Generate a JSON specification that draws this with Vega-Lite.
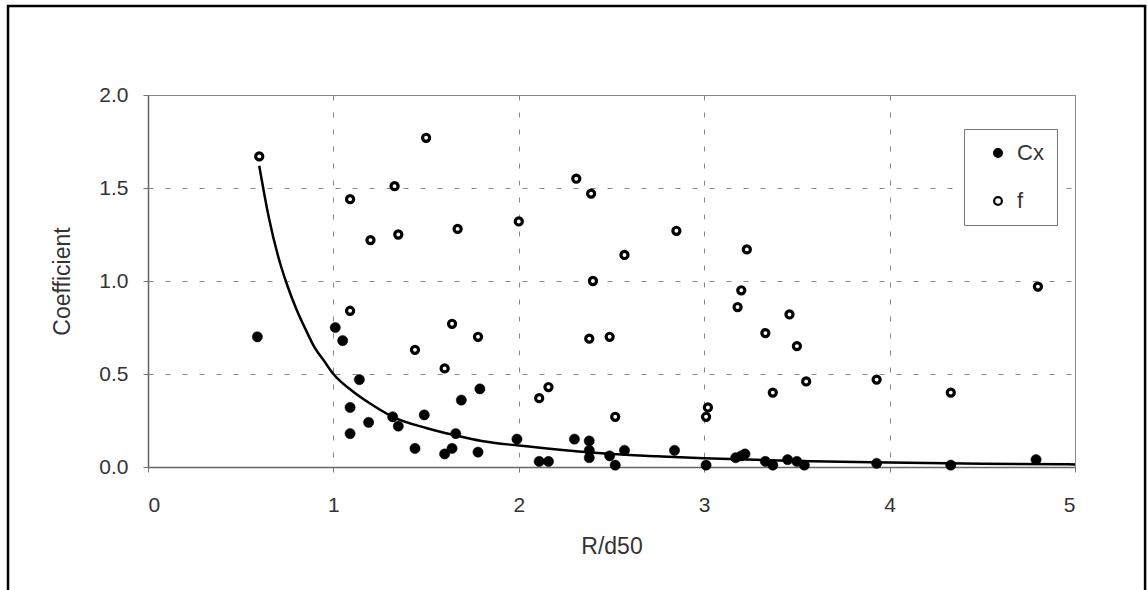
{
  "$schema": "https://vega.github.io/schema/vega-lite/v6.json",
  "width": 927,
  "height": 372,
  "autosize": {"type": "none"},
  "padding": {"left": 148, "top": 95, "right": 73, "bottom": 123},
  "background": "white",
  "config": {
    "font": "Liberation Sans",
    "view": {"stroke": "#888", "strokeWidth": 1},
    "axis": {
      "grid": true,
      "labelFont": "Liberation Sans",
      "titleFont": "Liberation Sans",
      "labelColor": "#333",
      "titleColor": "#333",
      "labelFontSize": 21,
      "titleFontSize": 23,
      "titleFontWeight": "normal",
      "domainColor": "#666",
      "domainWidth": 1.5,
      "tickColor": "#777",
      "tickSize": 5,
      "gridColor": "#888",
      "gridDash": [5, 12],
      "gridWidth": 1
    }
  },
  "datasets": {
    "pts": [
      {"series": "Cx", "x": 0.59, "y": 0.70},
      {"series": "Cx", "x": 1.01, "y": 0.75},
      {"series": "Cx", "x": 1.05, "y": 0.68},
      {"series": "Cx", "x": 1.14, "y": 0.47},
      {"series": "Cx", "x": 1.09, "y": 0.32},
      {"series": "Cx", "x": 1.19, "y": 0.24},
      {"series": "Cx", "x": 1.32, "y": 0.27},
      {"series": "Cx", "x": 1.35, "y": 0.22},
      {"series": "Cx", "x": 1.49, "y": 0.28},
      {"series": "Cx", "x": 1.09, "y": 0.18},
      {"series": "Cx", "x": 1.44, "y": 0.10},
      {"series": "Cx", "x": 1.66, "y": 0.18},
      {"series": "Cx", "x": 1.64, "y": 0.10},
      {"series": "Cx", "x": 1.60, "y": 0.07},
      {"series": "Cx", "x": 1.78, "y": 0.08},
      {"series": "Cx", "x": 1.79, "y": 0.42},
      {"series": "Cx", "x": 1.69, "y": 0.36},
      {"series": "Cx", "x": 1.99, "y": 0.15},
      {"series": "Cx", "x": 2.11, "y": 0.03},
      {"series": "Cx", "x": 2.16, "y": 0.03},
      {"series": "Cx", "x": 2.30, "y": 0.15},
      {"series": "Cx", "x": 2.38, "y": 0.14},
      {"series": "Cx", "x": 2.38, "y": 0.09},
      {"series": "Cx", "x": 2.38, "y": 0.05},
      {"series": "Cx", "x": 2.49, "y": 0.06},
      {"series": "Cx", "x": 2.52, "y": 0.01},
      {"series": "Cx", "x": 2.57, "y": 0.09},
      {"series": "Cx", "x": 2.84, "y": 0.09},
      {"series": "Cx", "x": 3.01, "y": 0.01},
      {"series": "Cx", "x": 3.17, "y": 0.05},
      {"series": "Cx", "x": 3.20, "y": 0.06},
      {"series": "Cx", "x": 3.22, "y": 0.07},
      {"series": "Cx", "x": 3.33, "y": 0.03},
      {"series": "Cx", "x": 3.37, "y": 0.01},
      {"series": "Cx", "x": 3.45, "y": 0.04},
      {"series": "Cx", "x": 3.50, "y": 0.03},
      {"series": "Cx", "x": 3.54, "y": 0.01},
      {"series": "Cx", "x": 3.93, "y": 0.02},
      {"series": "Cx", "x": 4.33, "y": 0.01},
      {"series": "Cx", "x": 4.79, "y": 0.04},
      {"series": "f", "x": 0.60, "y": 1.67},
      {"series": "f", "x": 1.50, "y": 1.77},
      {"series": "f", "x": 1.33, "y": 1.51},
      {"series": "f", "x": 1.09, "y": 1.44},
      {"series": "f", "x": 1.20, "y": 1.22},
      {"series": "f", "x": 1.35, "y": 1.25},
      {"series": "f", "x": 1.67, "y": 1.28},
      {"series": "f", "x": 2.00, "y": 1.32},
      {"series": "f", "x": 1.09, "y": 0.84},
      {"series": "f", "x": 1.64, "y": 0.77},
      {"series": "f", "x": 1.78, "y": 0.70},
      {"series": "f", "x": 1.44, "y": 0.63},
      {"series": "f", "x": 1.60, "y": 0.53},
      {"series": "f", "x": 2.11, "y": 0.37},
      {"series": "f", "x": 2.16, "y": 0.43},
      {"series": "f", "x": 2.31, "y": 1.55},
      {"series": "f", "x": 2.39, "y": 1.47},
      {"series": "f", "x": 2.85, "y": 1.27},
      {"series": "f", "x": 2.57, "y": 1.14},
      {"series": "f", "x": 3.23, "y": 1.17},
      {"series": "f", "x": 2.40, "y": 1.00},
      {"series": "f", "x": 3.20, "y": 0.95},
      {"series": "f", "x": 3.18, "y": 0.86},
      {"series": "f", "x": 3.46, "y": 0.82},
      {"series": "f", "x": 3.33, "y": 0.72},
      {"series": "f", "x": 3.50, "y": 0.65},
      {"series": "f", "x": 2.38, "y": 0.69},
      {"series": "f", "x": 2.49, "y": 0.70},
      {"series": "f", "x": 3.55, "y": 0.46},
      {"series": "f", "x": 3.93, "y": 0.47},
      {"series": "f", "x": 3.37, "y": 0.40},
      {"series": "f", "x": 2.52, "y": 0.27},
      {"series": "f", "x": 3.02, "y": 0.32},
      {"series": "f", "x": 3.01, "y": 0.27},
      {"series": "f", "x": 4.80, "y": 0.97},
      {"series": "f", "x": 4.33, "y": 0.40}
    ],
    "curve": [
      {"x": 0.60, "y": 1.62},
      {"x": 0.65, "y": 1.35},
      {"x": 0.70, "y": 1.14},
      {"x": 0.75, "y": 0.98},
      {"x": 0.80, "y": 0.85},
      {"x": 0.85, "y": 0.74},
      {"x": 0.90, "y": 0.64},
      {"x": 0.95, "y": 0.57},
      {"x": 1.00, "y": 0.50},
      {"x": 1.10, "y": 0.41},
      {"x": 1.20, "y": 0.34},
      {"x": 1.32, "y": 0.27},
      {"x": 1.50, "y": 0.21},
      {"x": 1.66, "y": 0.17},
      {"x": 1.80, "y": 0.14},
      {"x": 2.00, "y": 0.115},
      {"x": 2.25, "y": 0.09},
      {"x": 2.50, "y": 0.07},
      {"x": 2.75, "y": 0.058},
      {"x": 3.00, "y": 0.047},
      {"x": 3.50, "y": 0.032},
      {"x": 4.00, "y": 0.024},
      {"x": 4.50, "y": 0.018},
      {"x": 5.00, "y": 0.014}
    ]
  },
  "layer": [
    {
      "data": {"values": [{}]},
      "mark": {"type": "rect", "fill": null, "stroke": "black", "strokeWidth": 2.5, "clip": false},
      "encoding": {
        "x": {"datum": -0.755, "type": "quantitative", "scale": {"domain": [0, 5], "nice": false, "zero": false}},
        "x2": {"datum": 5.378},
        "y": {"datum": 2.478, "type": "quantitative", "scale": {"domain": [0, 2], "nice": false, "zero": false}},
        "y2": {"datum": -0.672}
      }
    },
    {
      "data": {"name": "curve"},
      "mark": {"type": "line", "color": "black", "strokeWidth": 2.5, "interpolate": "monotone"},
      "encoding": {
        "x": {
          "field": "x", "type": "quantitative",
          "scale": {"domain": [0, 5], "nice": false, "zero": false},
          "axis": {"title": "R/d50", "values": [0, 1, 2, 3, 4, 5], "format": "d", "labelPadding": 22, "titlePadding": 20}
        },
        "y": {
          "field": "y", "type": "quantitative",
          "scale": {"domain": [0, 2], "nice": false, "zero": false},
          "axis": {"title": "Coefficient", "values": [0, 0.5, 1, 1.5, 2], "format": ".1f", "labelPadding": 15, "titlePadding": 24}
        }
      }
    },
    {
      "data": {"name": "pts"},
      "transform": [{"filter": "datum.series === 'Cx'"}],
      "mark": {"type": "point", "filled": true, "stroke": "black", "strokeWidth": 0.5, "size": 105, "opacity": 1},
      "encoding": {
        "x": {"field": "x", "type": "quantitative"},
        "y": {"field": "y", "type": "quantitative"},
        "fill": {
          "field": "series", "type": "nominal",
          "scale": {"domain": ["Cx", "f"], "range": ["black", "white"]},
          "legend": {
            "title": null, "orient": "none", "legendX": 816, "legendY": 34,
            "direction": "vertical",
            "labelFontSize": 22, "labelColor": "#333", "labelFont": "Liberation Sans",
            "symbolType": "circle", "symbolSize": 60, "symbolStrokeColor": "black", "symbolStrokeWidth": 2.2,
            "symbolOffset": 10, "labelOffset": 8,
            "rowPadding": 26, "padding": 13,
            "strokeColor": "#777", "fillColor": "white"
          }
        }
      }
    },
    {
      "data": {"name": "pts"},
      "transform": [{"filter": "datum.series === 'f'"}],
      "mark": {"type": "point", "filled": true, "stroke": "black", "strokeWidth": 3.2, "size": 50, "opacity": 1},
      "encoding": {
        "x": {"field": "x", "type": "quantitative"},
        "y": {"field": "y", "type": "quantitative"},
        "fill": {"field": "series", "type": "nominal"}
      }
    }
  ]
}
